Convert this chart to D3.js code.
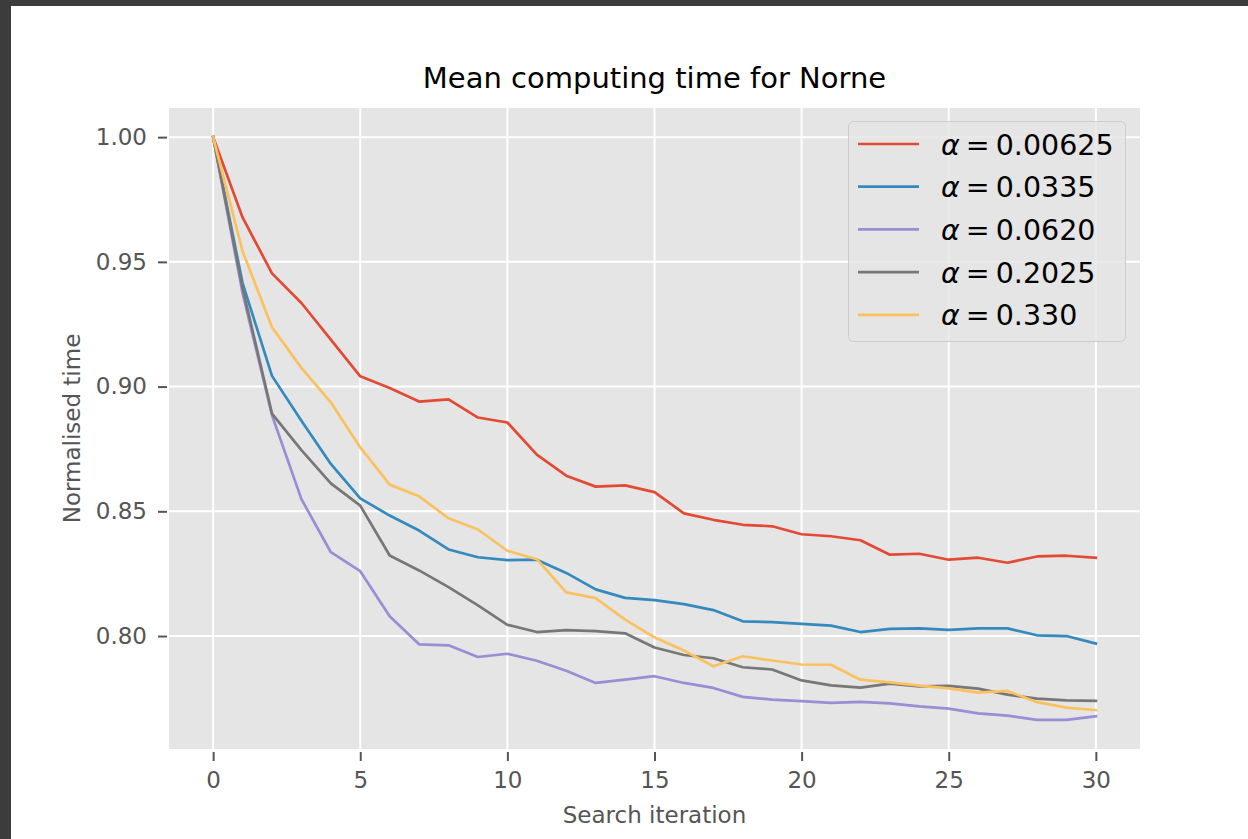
<!DOCTYPE html>
<html lang="en">
  <head>
    <meta charset="UTF-8" />
    <title>Mean computing time for Norne</title>
    <script src="https://cdn.jsdelivr.net/npm/d3@7"></script>
    <style>
      body { margin: 0; background: #3c3c3c; }
      text { font-family: 'DejaVu Sans', sans-serif; }
    </style>
  </head>
  <body>
    <div id="container"></div>
    <script>
      // data
      const iterations = d3.range(0, 31)
      const alphaLabels = ['0.00625', '0.0335', '0.0620', '0.2025', '0.330']
      const colors = ['#E24A33', '#348ABD', '#988ED5', '#777777', '#FBC15E']

      const alpha00625 = [1.0, 0.9678, 0.9454, 0.9335, 0.9188, 0.9041, 0.8994, 0.8940, 0.8949, 0.8876,
        0.8856, 0.8727, 0.8643, 0.8599, 0.8604, 0.8577, 0.8492, 0.8466, 0.8446, 0.8440,
        0.8408, 0.8400, 0.8384, 0.8326, 0.8330, 0.8306, 0.8314, 0.8294, 0.8319, 0.8322, 0.8314]
      const alpha0335 = [1.0, 0.9415, 0.9043, 0.8863, 0.8690, 0.8552, 0.8483, 0.8423, 0.8347, 0.8316,
        0.8304, 0.8306, 0.8253, 0.8187, 0.8153, 0.8144, 0.8128, 0.8104, 0.8059, 0.8056,
        0.8049, 0.8042, 0.8016, 0.8029, 0.8031, 0.8025, 0.8031, 0.8031, 0.8003, 0.8000, 0.7970]
      const alpha0620 = [1.0, 0.9375, 0.8885, 0.8549, 0.8336, 0.8260, 0.8079, 0.7967, 0.7963, 0.7916,
        0.7929, 0.7901, 0.7861, 0.7812, 0.7825, 0.7839, 0.7812, 0.7792, 0.7756, 0.7745,
        0.7739, 0.7732, 0.7736, 0.7730, 0.7718, 0.7709, 0.7690, 0.7681, 0.7664, 0.7664, 0.7678]
      const alpha2025 = [1.0, 0.9395, 0.8892, 0.8745, 0.8612, 0.8523, 0.8323, 0.8263, 0.8196, 0.8123,
        0.8045, 0.8016, 0.8024, 0.8020, 0.8011, 0.7954, 0.7924, 0.7911, 0.7875, 0.7866,
        0.7822, 0.7802, 0.7793, 0.7809, 0.7798, 0.7800, 0.7789, 0.7765, 0.7749, 0.7742, 0.7740]
      const alpha330 = [1.0, 0.9543, 0.9238, 0.9075, 0.8937, 0.8756, 0.8607, 0.8560, 0.8472, 0.8427,
        0.8342, 0.8308, 0.8175, 0.8152, 0.8066, 0.7995, 0.7942, 0.7879, 0.7919, 0.7902,
        0.7886, 0.7885, 0.7825, 0.7814, 0.7801, 0.7790, 0.7773, 0.7780, 0.7735, 0.7713, 0.7703]

      const xTicks = [0, 5, 10, 15, 20, 25, 30]
      const yTicks = [0.80, 0.85, 0.90, 0.95, 1.00]

      const series = [alpha00625, alpha0335, alpha0620, alpha2025, alpha330]

      // setup svg
      const width = 1248
      const height = 839
      const marginTop = 108
      const marginRight = 108
      const marginBottom = 90
      const marginLeft = 169

      const allValues = series.flat()
      const yMin = d3.min(allValues)
      const yMax = d3.max(allValues)
      const yPad = (yMax - yMin) * 0.05

      const xScale = d3.scaleLinear()
        .domain([-1.5, 31.5])
        .range([marginLeft, width - marginRight])

      const yScale = d3.scaleLinear()
        .domain([yMin - yPad, yMax + yPad])
        .range([height - marginBottom, marginTop])

      const svg = d3.create('svg')
        .attr('width', width)
        .attr('height', height)
        .attr('viewBox', [0, 0, width, height])
        .style('display', 'block')

      // dark window frame + white figure
      svg.append('rect').attr('width', width).attr('height', height).attr('fill', '#3c3c3c')
      svg.append('rect').attr('x', 11).attr('y', 6)
        .attr('width', width - 11).attr('height', height - 6).attr('fill', '#ffffff')

      // axes background
      svg.append('rect')
        .attr('x', marginLeft)
        .attr('y', marginTop)
        .attr('width', width - marginLeft - marginRight)
        .attr('height', height - marginTop - marginBottom)
        .attr('fill', '#E5E5E5')

      // grid
      svg.append('g')
        .attr('stroke', '#ffffff')
        .attr('stroke-width', 2)
        .call(g => g.selectAll('.vx').data(xTicks).join('line')
          .attr('x1', d => xScale(d)).attr('x2', d => xScale(d))
          .attr('y1', marginTop).attr('y2', height - marginBottom))
        .call(g => g.selectAll('.hy').data(yTicks).join('line')
          .attr('x1', marginLeft).attr('x2', width - marginRight)
          .attr('y1', d => yScale(d)).attr('y2', d => yScale(d)))

      // x axis
      const xAxis = svg.append('g')
        .attr('transform', `translate(0, ${height - marginBottom + 3})`)
        .call(d3.axisBottom(xScale).tickValues(xTicks).tickSize(9).tickPadding(11))
      // y axis
      const yAxis = svg.append('g')
        .attr('transform', `translate(${marginLeft - 2}, 0)`)
        .call(d3.axisLeft(yScale).tickValues(yTicks).tickSize(9).tickPadding(11)
          .tickFormat(d3.format('.2f')))

      for (const ax of [xAxis, yAxis]) {
        ax.select('.domain').remove()
        ax.selectAll('.tick line').attr('stroke', '#555555').attr('stroke-width', 2)
        ax.selectAll('.tick text')
          .attr('fill', '#555555')
          .style('font-size', '23px')
          .style('font-family', 'DejaVu Sans')
      }

      // lines
      const line = d3.line()
        .x((d, i) => xScale(iterations[i]))
        .y(d => yScale(d))

      svg.append('g')
        .attr('fill', 'none')
        .attr('stroke-width', 2.7)
        .attr('stroke-linejoin', 'round')
        .attr('stroke-linecap', 'square')
        .selectAll('path')
        .data(series)
        .join('path')
        .attr('stroke', (d, i) => colors[i])
        .attr('d', line)

      // title and labels
      const plotCenterX = (marginLeft + width - marginRight) / 2
      svg.append('text')
        .attr('x', plotCenterX)
        .attr('y', 88)
        .attr('text-anchor', 'middle')
        .attr('fill', '#000')
        .style('font-size', '29px')
        .text('Mean computing time for Norne')

      svg.append('text')
        .attr('x', plotCenterX)
        .attr('y', 823)
        .attr('text-anchor', 'middle')
        .attr('fill', '#555555')
        .style('font-size', '23px')
        .text('Search iteration')

      svg.append('text')
        .attr('transform', `translate(80, ${(marginTop + height - marginBottom) / 2}) rotate(-90)`)
        .attr('text-anchor', 'middle')
        .attr('fill', '#555555')
        .style('font-size', '23px')
        .text('Normalised time')

      // legend
      const legend = svg.append('g')
      legend.append('rect')
        .attr('x', 848.5).attr('y', 121.5)
        .attr('width', 277).attr('height', 220)
        .attr('rx', 5)
        .attr('fill', '#E5E5E5').attr('fill-opacity', 0.8)
        .attr('stroke', '#cccccc').attr('stroke-width', 1)

      const rows = legend.selectAll('g.row')
        .data(alphaLabels)
        .join('g')
        .attr('class', 'row')
        .attr('transform', (d, i) => `translate(0, ${144 + i * 42.7})`)

      rows.append('line')
        .attr('x1', 858).attr('x2', 919)
        .attr('stroke', (d, i) => colors[i])
        .attr('stroke-width', 2.7)

      const labels = rows.append('text')
        .attr('x', 941)
        .attr('dy', '0.37em')
        .attr('fill', '#000')
        .style('font-size', '28.5px')
      labels.append('tspan').style('font-style', 'italic').text('α')
      labels.append('tspan').attr('dx', 6).text('=')
      labels.append('tspan').attr('dx', 6).text(d => d)

      container.append(svg.node())
    </script>
  </body>
</html>
